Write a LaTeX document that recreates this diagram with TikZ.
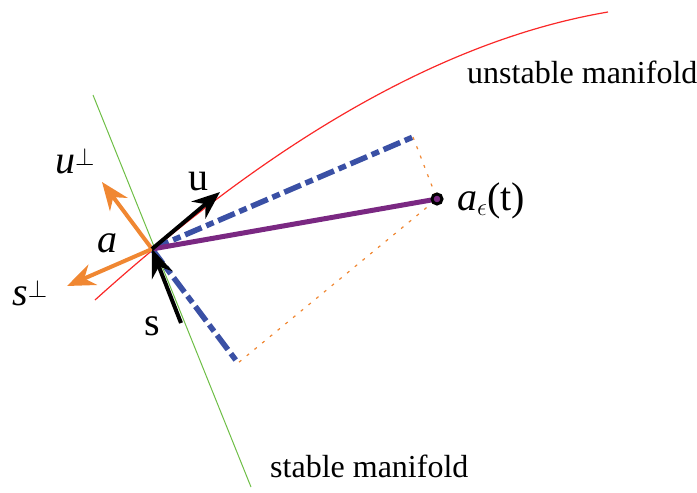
\documentclass[tikz,border=0pt]{standalone}
\usepackage{fontspec}
\setmainfont{Liberation Serif}
\usetikzlibrary{arrows.meta}
\definecolor{manired}{RGB}{250,40,40}
\definecolor{manigreen}{RGB}{110,190,70}
\definecolor{projblue}{RGB}{58,80,165}
\definecolor{perporange}{RGB}{240,135,50}
\definecolor{flowpurple}{RGB}{122,40,130}
\newcommand{\perpsup}{\raisebox{8pt}{\fontsize{27}{30}\selectfont$\perp$}}
\newcommand{\epssub}{\raisebox{-5pt}{\fontsize{28}{30}\selectfont$\epsilon$}}
\tikzset{
  lbl/.style={inner sep=0pt, font=\fontsize{32}{38}\selectfont},
  sym/.style={inner sep=0pt, font=\fontsize{40}{46}\selectfont},
  vec/.style={line width=4pt, -{Stealth[length=28pt,width=22pt]}},
  proj/.style={projblue, line width=5.5pt, dash pattern=on 18pt off 5pt on 8pt off 5pt},
  guide/.style={perporange, line width=1.2pt, dash pattern=on 3pt off 7pt}
}
\begin{document}
\begin{tikzpicture}[x=1pt, y=-1pt]
\useasboundingbox (0,0) rectangle (697,493);

\coordinate (a) at (152,249);
\coordinate (st0) at (93,95);
\coordinate (st1) at (251,487);
\coordinate (un0) at (95,300);
\coordinate (unc0) at (278,135);
\coordinate (unc1) at (449,39);
\coordinate (un1) at (608,12);
\coordinate (pu) at (413,137);
\coordinate (ps) at (238,363);
\coordinate (ae) at (437,199);
\coordinate (tipu) at (220,192);
\coordinate (tails) at (181,323);
\coordinate (tipup) at (102,182);
\coordinate (tipsp) at (67,286);

% manifolds
\draw[manigreen, line width=1pt] (st0) -- (st1);
\draw[manired, line width=1.2pt] (un0) .. controls (unc0) and (unc1) .. (un1);

% projections
\draw[guide] (pu) -- (ae) -- (ps);
\draw[proj] (a) -- (pu);
\draw[proj] (a) -- (ps);
\draw[flowpurple, line width=5pt] (a) -- (ae);
\draw[fill=flowpurple, line width=3pt] (ae) circle (5);

% vectors
\draw[vec, perporange] (a) -- (tipup);
\draw[vec, perporange] (a) -- (tipsp);
\draw[vec] (a) -- (tipu);
\draw[vec] (tails) -- (a);

\node[sym, anchor=base] (lu) at (198,190) {u};
\node[sym, anchor=base] (ls) at (152,335) {s};
\node[sym, anchor=base] (la) at (107,252) {\textit{a}};
\node[sym, anchor=base west] (lup) at (55,173) {\textit{u}\perpsup};
\node[sym, anchor=base west] (lsp) at (12,305) {\textit{s}\perpsup};
\node[sym, anchor=base west] (lae) at (457,210) {\textit{a}\epssub(t)};
\node[lbl, anchor=base west] (lun) at (467,83) {unstable manifold};
\node[lbl, anchor=base west] (lst) at (270,477) {stable manifold};
\end{tikzpicture}
\end{document}
